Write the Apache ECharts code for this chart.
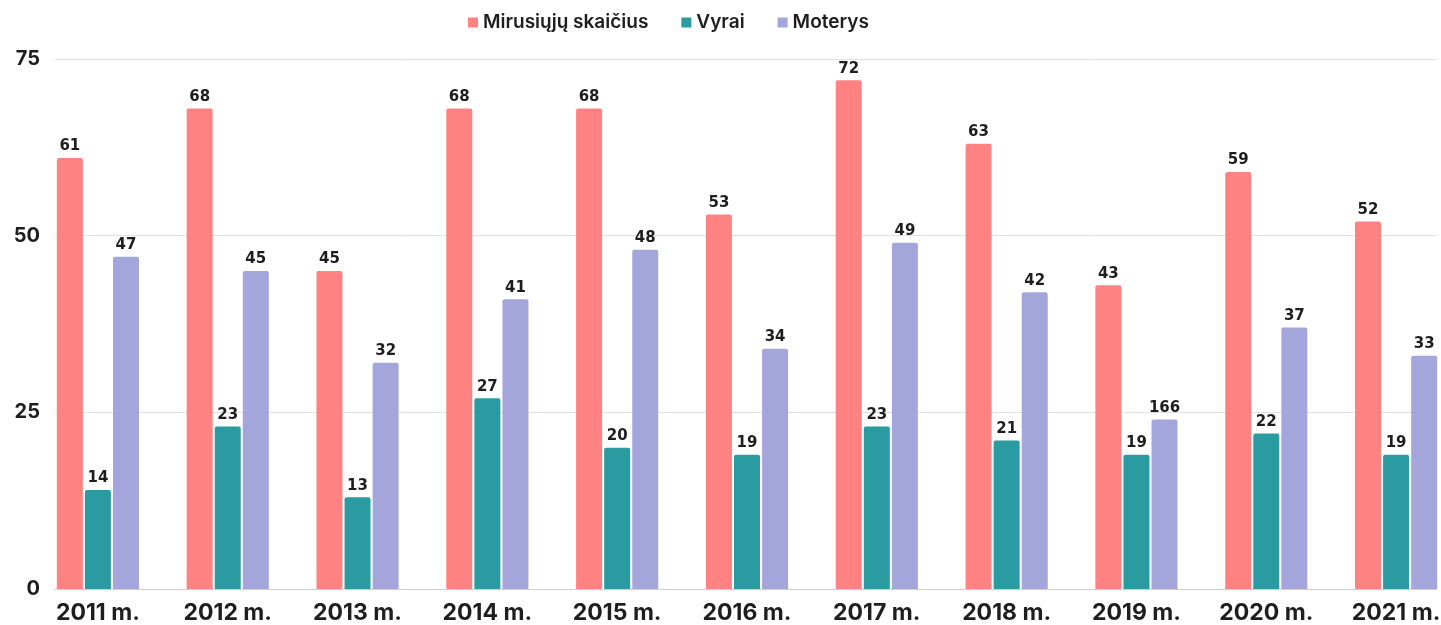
<!DOCTYPE html>
<html><head><meta charset="utf-8">
<script src="https://cdn.jsdelivr.net/npm/echarts@6/dist/echarts.min.js"></script>
<style>html,body{margin:0;padding:0;background:#fff}#c{width:1441px;height:625px}</style>
</head><body><div id="c"></div>
<script>
const categories = ['2011 m.','2012 m.','2013 m.','2014 m.','2015 m.','2016 m.','2017 m.','2018 m.','2019 m.','2020 m.','2021 m.'];
const seriesNames = ['Mirusiųjų skaičius','Vyrai','Moterys'];
const mirusiuju = [61,68,45,68,68,53,72,63,43,59,52];
const vyrai = [14,23,13,27,20,19,23,21,19,22,19];
const moterys = [47,45,32,41,48,34,49,42,24,37,33];
const moterysLabels = ['47','45','32','41','48','34','49','42','166','37','33'];
const yTicks = [0,25,50,75];

const colors = ['#fe8282','#2a9ba0','#a4a6db'];
const labelStyle = {show:true, position:'top', distance:4, fontFamily:'DejaVu Sans', fontWeight:'bold', fontSize:15, color:'#1e1e1e'};
const chart = echarts.init(document.getElementById('c'), null, {renderer:'canvas'});
chart.setOption({
  animation:false,
  color: colors,
  legend:{
    data: seriesNames, top:8, left:463, itemWidth:10, itemHeight:10, itemGap:33,
    icon:'rect',
    textStyle:{fontFamily:'Inter', fontWeight:600, fontSize:19, color:'#1e1e1e'}
  },
  grid:[
    {left:55, right:4, top:59, bottom:36, outerBoundsMode:'none'},
    {left:33, width:1428, top:59, bottom:36, outerBoundsMode:'none'}
  ],
  xAxis:[
    {gridIndex:0, type:'category', data:categories, axisLine:{show:true, lineStyle:{color:'#cfcfcf'}}, axisTick:{show:false}, axisLabel:{show:false}},
    {gridIndex:1, type:'category', data:categories, axisLine:{show:false}, axisTick:{show:false},
     axisLabel:{margin:13, fontFamily:'Inter', fontWeight:'bold', fontSize:23, color:'#1e1e1e'}}
  ],
  yAxis:[
    {gridIndex:0, type:'value', min:yTicks[0], max:yTicks[yTicks.length-1], interval:25,
     axisLine:{show:false}, axisTick:{show:false},
     splitLine:{lineStyle:{color:'#e0e0e0'}},
     axisLabel:{margin:15, fontFamily:'Inter', fontWeight:'bold', fontSize:20, color:'#1e1e1e'}},
    {gridIndex:1, type:'value', min:yTicks[0], max:yTicks[yTicks.length-1], interval:25, show:false}
  ],
  series:[
    {name:seriesNames[0], type:'bar', xAxisIndex:1, yAxisIndex:1, data:mirusiuju, barWidth:26, barGap:'8%', itemStyle:{borderRadius:[2,2,0,0]}, label:labelStyle},
    {name:seriesNames[1], type:'bar', xAxisIndex:1, yAxisIndex:1, data:vyrai, barWidth:26, barGap:'8%', itemStyle:{borderRadius:[2,2,0,0]}, label:labelStyle},
    {name:seriesNames[2], type:'bar', xAxisIndex:1, yAxisIndex:1, data:moterys, barWidth:26, barGap:'8%', itemStyle:{borderRadius:[2,2,0,0]},
     label:Object.assign({}, labelStyle, {formatter:p => moterysLabels[p.dataIndex]})}
  ]
});
</script></body></html>
